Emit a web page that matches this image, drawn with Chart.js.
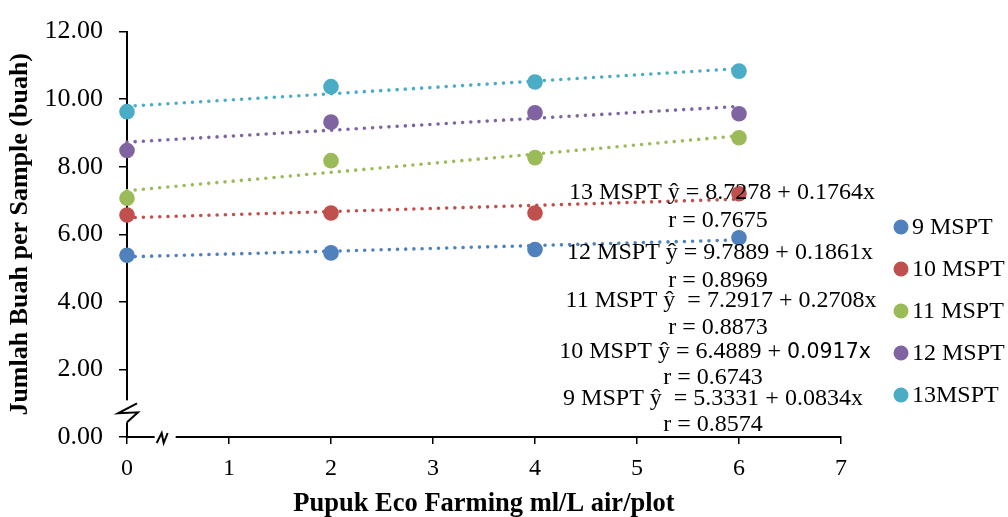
<!DOCTYPE html>
<html>
<head>
<meta charset="utf-8">
<script src="https://cdn.jsdelivr.net/npm/chart.js@4/dist/chart.umd.min.js"></script>
<style>
  html, body { margin: 0; padding: 0; background: #ffffff; }
  canvas { display: block; }
</style>
</head>
<body>
<canvas id="chart" width="1008" height="517"></canvas>
<script>
// Dose of Eco Farming fertiliser (ml/L water/plot)
const doses = [0, 2, 4, 6];

// Mean fruit count per sample at each observation week
const seriesNames = ['9 MSPT', '10 MSPT', '11 MSPT', '12 MSPT', '13MSPT'];
const mspt9  = [5.38, 5.45, 5.55, 5.90];
const mspt10 = [6.57, 6.63, 6.63, 7.20];
const mspt11 = [7.07, 8.18, 8.27, 8.86];
const mspt12 = [8.48, 9.32, 9.60, 9.57];
const mspt13 = [9.63, 10.37, 10.51, 10.83];

// Linear regression coefficients for each series (ŷ = a + b·x)
const intercepts = [5.3331, 6.4889, 7.2917, 8.7278, 9.7889];
const slopes     = [0.0834, 0.0917, 0.2708, 0.1764, 0.1861];
const trendRange = [0, 6];

// Axis ticks
const xTickValues = [0, 1, 2, 3, 4, 5, 6, 7];
const yTickValues = [0, 2, 4, 6, 8, 10, 12];

// Regression equation texts shown on the plot
const equationTexts = [
  '13 MSPT ŷ = 8.7278 + 0.1764x', 'r = 0.7675',
  '12 MSPT ŷ = 9.7889 + 0.1861x', 'r = 0.8969',
  '11 MSPT ŷ  = 7.2917 + 0.2708x', 'r = 0.8873',
  '10 MSPT ŷ = 6.4889 + |0.0917x', 'r = 0.6743',
  '9 MSPT ŷ  = 5.3331 + 0.0834x', 'r = 0.8574'
];

const palette = ['#4F81BD', '#C0504D', '#9BBB59', '#8064A2', '#4BACC6'];
const serif = '"Liberation Serif", "Times New Roman", serif';
const seriesValues = [mspt9, mspt10, mspt11, mspt12, mspt13];

const pointSets = seriesValues.map((vals, i) => ({
  label: seriesNames[i],
  data: doses.map((d, k) => ({ x: d, y: vals[k] })),
  showLine: false,
  pointRadius: 7.8,
  pointBackgroundColor: palette[i],
  pointBorderColor: palette[i],
  pointBorderWidth: 0,
  clip: false
}));

const trendSets = intercepts.map((a, i) => ({
  label: seriesNames[i] + ' trend',
  data: trendRange.map(x => ({ x: x, y: a + slopes[i] * x })),
  showLine: true,
  pointRadius: 0,
  borderColor: palette[i],
  borderWidth: 3.6,
  borderDash: [0, 8.2],
  borderCapStyle: 'round',
  fill: false,
  clip: false
}));

// Legend at the right, built from the point datasets
const sideLegend = {
  id: 'sideLegend',
  afterDraw(chart) {
    const ctx = chart.ctx;
    const x0 = 901, y0 = 227, step = 42;
    ctx.save();
    ctx.font = '24px ' + serif;
    ctx.textBaseline = 'middle';
    ctx.textAlign = 'left';
    pointSets.forEach((ds, i) => {
      const y = y0 + i * step;
      ctx.fillStyle = ds.pointBackgroundColor;
      ctx.beginPath();
      ctx.arc(x0, y, 7.5, 0, Math.PI * 2);
      ctx.fill();
      ctx.fillStyle = '#000';
      ctx.fillText(ds.label, x0 + 11, y + 1);
    });
    ctx.restore();
  }
};

// Regression equations, centred text lines; text after '|' uses a sans face
const equations = {
  id: 'equations',
  afterDraw(chart) {
    const ctx = chart.ctx;
    const centers = [722, 718, 720, 718, 721, 718, 715, 713, 713, 713];
    const rows = [193, 221, 253, 281, 301, 328, 352, 378, 399, 425];
    const serifFont = '24px ' + serif;
    const sansFont = '20.5px "DejaVu Sans", sans-serif';
    ctx.save();
    ctx.fillStyle = '#000';
    ctx.textBaseline = 'middle';
    ctx.textAlign = 'left';
    equationTexts.forEach((t, i) => {
      const parts = t.split('|');
      ctx.font = serifFont;
      const w1 = ctx.measureText(parts[0]).width;
      let w2 = 0;
      if (parts[1]) { ctx.font = sansFont; w2 = ctx.measureText(parts[1]).width; }
      const start = centers[i] - (w1 + w2) / 2;
      ctx.font = serifFont;
      ctx.fillText(parts[0], start, rows[i]);
      if (parts[1]) {
        ctx.font = sansFont;
        ctx.fillText(parts[1], start + w1, rows[i] + 1);
      }
    });
    ctx.restore();
  }
};

// Axis break marks on both axes near the origin
const axisBreaks = {
  id: 'axisBreaks',
  afterDraw(chart) {
    const ctx = chart.ctx;
    const xs = chart.scales.x, ys = chart.scales.y;
    const ax = xs.getPixelForValue(0);
    const ay = ys.getPixelForValue(0);
    ctx.save();
    ctx.fillStyle = '#fff';
    ctx.strokeStyle = '#000';
    ctx.lineWidth = 2;
    ctx.lineCap = 'butt';

    // vertical axis
    const by = ys.getPixelForValue(0.7);
    ctx.fillRect(ax - 3, by - 13, 6, 22);
    ctx.beginPath();
    ctx.moveTo(ax + 10, by - 10);
    ctx.lineTo(ax - 9, by);
    ctx.lineTo(ax + 11, by - 1);
    ctx.lineTo(ax, by + 9);
    ctx.stroke();

    // horizontal axis
    const bx = xs.getPixelForValue(0.34);
    ctx.fillRect(bx - 7, ay - 3, 21, 6);
    ctx.beginPath();
    ctx.moveTo(bx - 5, ay + 6);
    ctx.lineTo(bx, ay - 4);
    ctx.lineTo(bx + 2, ay + 6);
    ctx.lineTo(bx + 6, ay - 4);
    ctx.stroke();
    ctx.restore();
  }
};

new Chart(document.getElementById('chart'), {
  type: 'scatter',
  data: { datasets: pointSets.concat(trendSets) },
  options: {
    responsive: false,
    animation: false,
    events: [],
    layout: { padding: { top: 25, right: 167, bottom: 0, left: 0 } },
    plugins: {
      legend: { display: false },
      tooltip: { enabled: false }
    },
    scales: {
      x: {
        type: 'linear',
        min: xTickValues[0],
        max: xTickValues[xTickValues.length - 1],
        afterBuildTicks: s => { s.ticks = xTickValues.map(v => ({ value: v })); },
        afterFit: s => { s.height = 80; },
        ticks: {
          color: '#000',
          font: { family: serif, size: 24 },
          padding: 10,
          autoSkip: false,
          maxRotation: 0,
          callback: v => String(v)
        },
        grid: {
          display: true,
          drawOnChartArea: false,
          drawTicks: true,
          tickLength: 7,
          color: '#000',
          lineWidth: 1.5
        },
        border: { display: true, color: '#000', width: 2 },
        title: {
          display: true,
          text: 'Pupuk Eco Farming ml/L air/plot',
          color: '#000',
          font: { family: serif, size: 26.5, weight: 'bold', lineHeight: 1 },
          padding: { top: 0, bottom: 0 }
        }
      },
      y: {
        type: 'linear',
        min: yTickValues[0],
        max: yTickValues[yTickValues.length - 1],
        afterBuildTicks: s => { s.ticks = yTickValues.map(v => ({ value: v })); },
        afterFit: s => { s.width = 127; },
        ticks: {
          color: '#000',
          font: { family: serif, size: 26 },
          padding: 16,
          autoSkip: false,
          callback: v => Number(v).toFixed(2)
        },
        grid: {
          display: true,
          drawOnChartArea: false,
          drawTicks: true,
          tickLength: 8,
          color: '#000',
          lineWidth: 1.5
        },
        border: { display: true, color: '#000', width: 2 },
        title: {
          display: true,
          text: 'Jumlah Buah per Sample (buah)',
          color: '#000',
          font: { family: serif, size: 26, weight: 'bold', lineHeight: 1.2 },
          padding: { top: 5, bottom: 0 }
        }
      }
    }
  },
  plugins: [axisBreaks, equations, sideLegend]
});
</script>
</body>
</html>
